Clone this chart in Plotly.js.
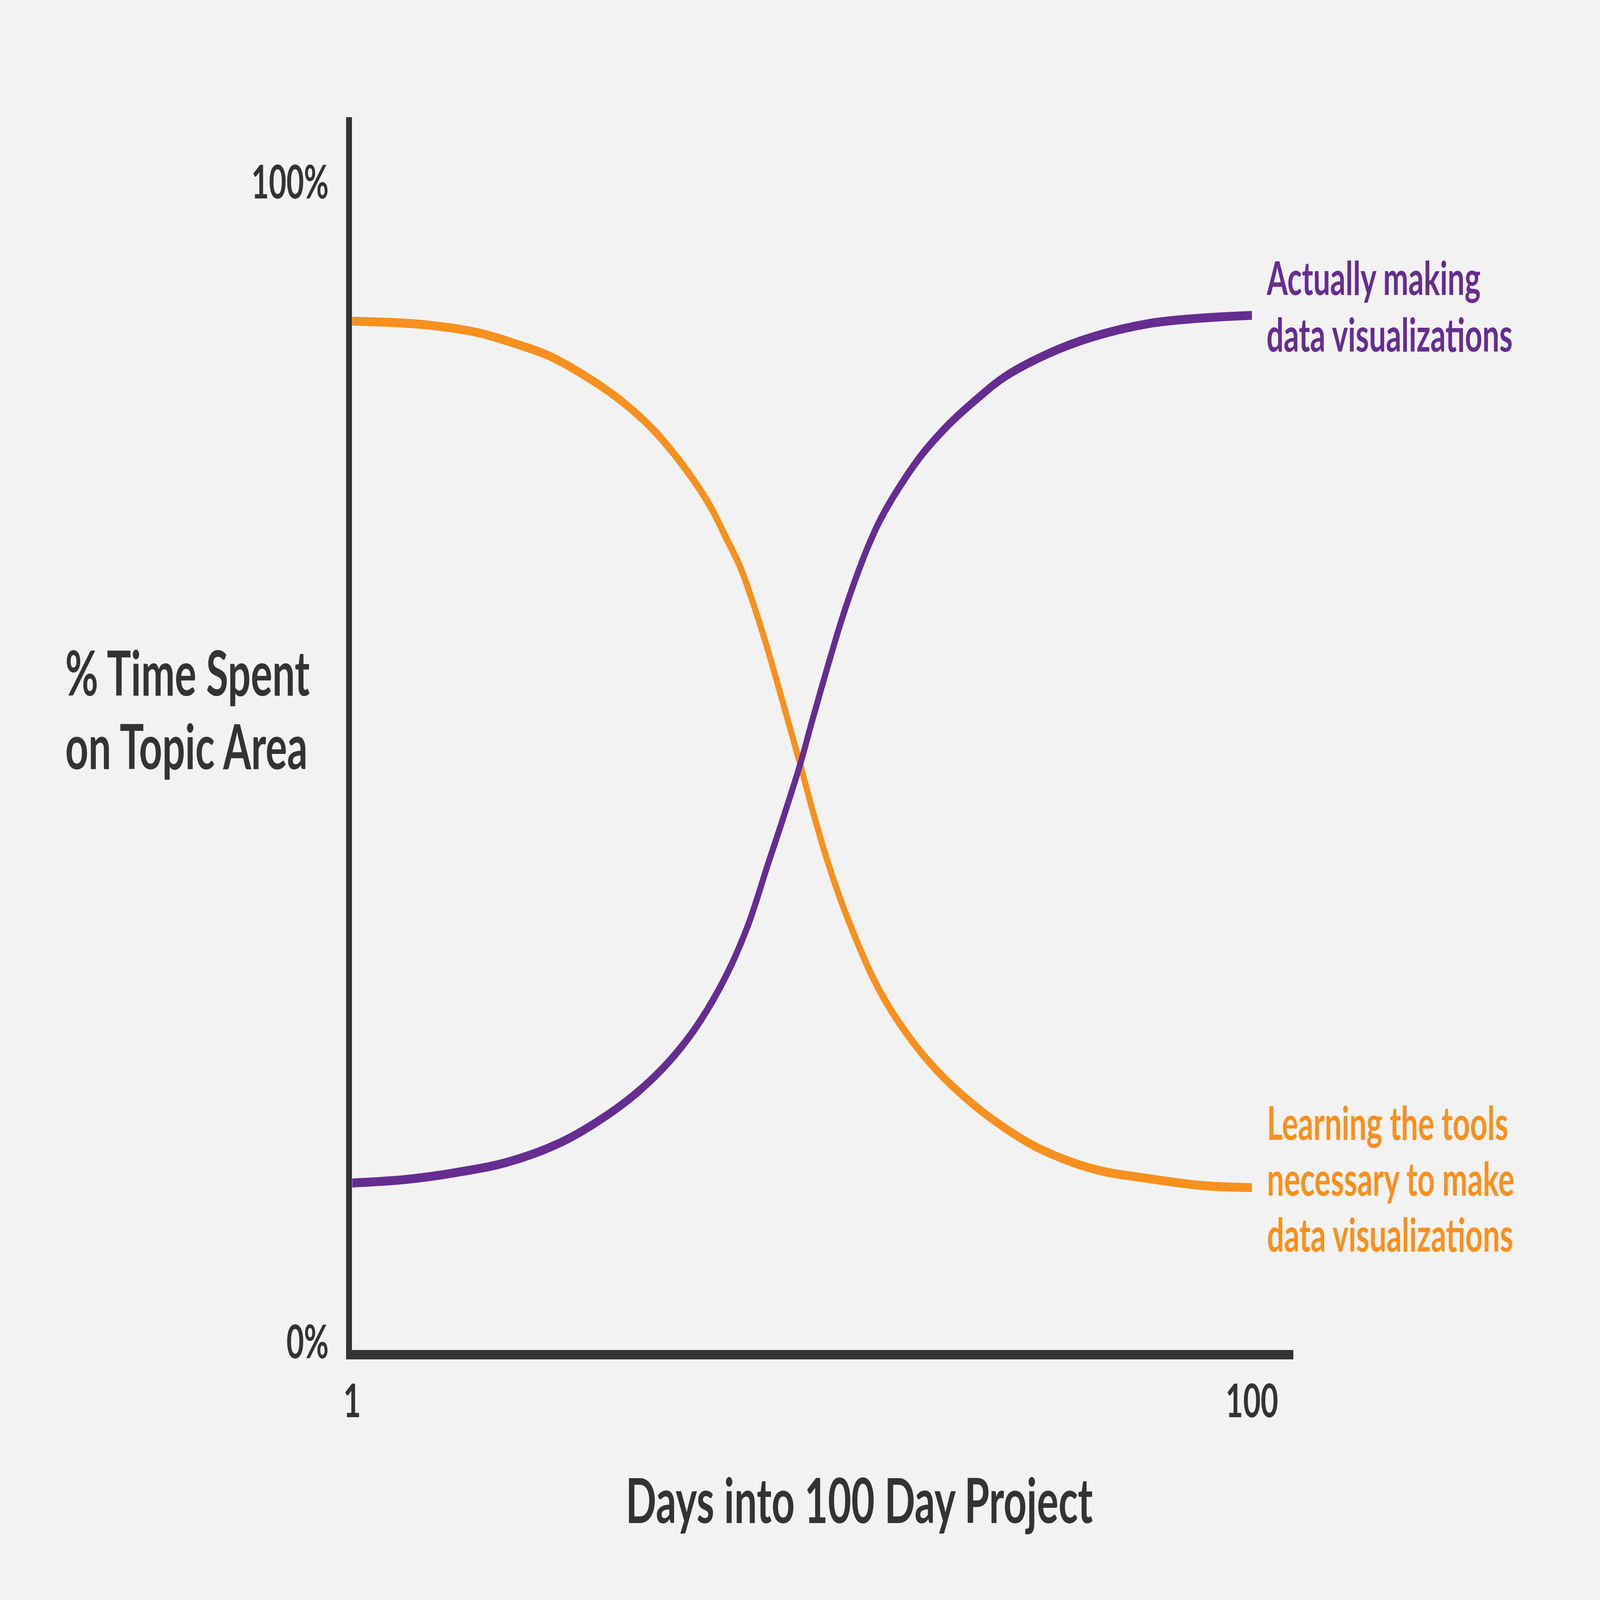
<!DOCTYPE html>
<html>
<head>
<meta charset="utf-8">
<script src="https://cdn.plot.ly/plotly-3.0.1.min.js"></script>
<style>
  html, body { margin: 0; padding: 0; background: #f2f2f2; overflow: hidden; }
  #chart { width: 6352px; height: 4116px; transform-origin: 0 0; }
</style>
</head>
<body>
<div id="chart"></div>
<script>
// Days into the project (x) and share of time (y, %)
const learningDays = [1, 8.9, 14.9, 18.8, 22.7, 26.6, 30.5, 34.3, 38.3, 40.5, 42.1, 43.7, 45.2, 46.8, 48.4, 50.3, 51.6, 53.2, 54.8, 56.4, 58.0, 59.6, 62.0, 65.1, 69.0, 72.9, 76.8, 82.6, 88.5, 94.3, 100];
const learningShare = [88.7, 88.4, 87.7, 86.8, 85.7, 84.0, 81.9, 79.2, 75.3, 72.6, 70.1, 67.5, 64.2, 60.2, 55.8, 50.5, 46.7, 42.4, 38.7, 35.5, 32.6, 30.2, 27.3, 24.3, 21.4, 19.1, 17.3, 15.6, 14.8, 14.2, 14.0];

const makingDays = [1, 6.8, 12.4, 18.1, 23.7, 28.0, 32.2, 35.9, 38.9, 42.1, 44.5, 46.8, 48.4, 50.3, 51.6, 53.2, 54.8, 56.4, 58.0, 59.6, 63.3, 66.4, 69.6, 72.8, 77.6, 82.3, 88.7, 95.1, 100];
const makingShare = [14.4, 14.7, 15.3, 16.2, 17.8, 19.7, 22.1, 24.9, 27.9, 32.2, 36.5, 42.0, 45.8, 50.5, 54.2, 58.6, 62.8, 66.5, 69.7, 72.3, 76.8, 79.6, 81.9, 83.9, 85.9, 87.3, 88.5, 89.0, 89.2];

const xTickVals = [1, 100];
const xTickText = ['1', '100'];
const yTickVals = [0, 100];
const yTickText = ['0%', '100%'];

const makingLabel = ['Actually making', 'data visualizations'];
const learningLabel = ['Learning the tools', 'necessary to make', 'data visualizations'];
const yTitleLines = ['% Time Spent', 'on Topic Area'];
const xTitle = 'Days into 100 Day Project';

const ORANGE = '#f7901e';
const PURPLE = '#662d91';
const DARK = '#333333';
const FONT = 'Lato, "Open Sans", sans-serif';

// the design is laid out at 6352x4116; stretch it onto whatever window we get
const W0 = 6352, H0 = 4116;
const chartDiv = document.getElementById('chart');
chartDiv.style.transform = 'scale(' + (window.innerWidth / W0) + ',' + (window.innerHeight / H0) + ')';

const traces = [
    {
        x: learningDays,
        y: learningShare,
        mode: 'lines',
        name: 'Learning the tools',
        line: { color: ORANGE, width: 23, shape: 'spline', smoothing: 1 },
        hoverinfo: 'skip'
    },
    {
        x: makingDays,
        y: makingShare,
        mode: 'lines',
        name: 'Actually making',
        line: { color: PURPLE, width: 23, shape: 'spline', smoothing: 1 },
        hoverinfo: 'skip'
    }
];

const annotations = [];

// line labels, one annotation per text line, hung off each series' last point
const makingShifts = [98, -47];
makingLabel.forEach((t, i) => {
    annotations.push({
        x: makingDays[makingDays.length - 1], y: makingShare[makingShare.length - 1],
        xref: 'x', yref: 'y', text: t, showarrow: false,
        xanchor: 'left', yanchor: 'middle', xshift: 56, yshift: makingShifts[i],
        font: { family: FONT, size: 120, weight: 'bold', color: PURPLE }
    });
});
const learningShifts = [169, 25, -119];
learningLabel.forEach((t, i) => {
    annotations.push({
        x: learningDays[learningDays.length - 1], y: learningShare[learningShare.length - 1],
        xref: 'x', yref: 'y', text: t, showarrow: false,
        xanchor: 'left', yanchor: 'middle', xshift: 58, yshift: learningShifts[i],
        font: { family: FONT, size: 120, weight: 'bold', color: ORANGE }
    });
});

// y title sits horizontally left of the axis
const yTitleY = [0.5501, 0.4905];
yTitleLines.forEach((t, i) => {
    annotations.push({
        x: -0.3053, y: yTitleY[i], xref: 'paper', yref: 'paper',
        text: t, showarrow: false, xanchor: 'left', yanchor: 'middle',
        font: { family: FONT, size: 160, weight: 'bold', color: DARK }
    });
});

annotations.push({
    x: 0.5387, y: -0.1207, xref: 'paper', yref: 'paper',
    text: xTitle, showarrow: false, xanchor: 'center', yanchor: 'middle',
    font: { family: FONT, size: 160, weight: 'bold', color: DARK }
});

const layout = {
    width: W0,
    height: H0,
    paper_bgcolor: '#f2f2f2',
    plot_bgcolor: '#f2f2f2',
    showlegend: false,
    margin: { l: 1398, r: 1217, t: 301, b: 643, pad: 0 },
    xaxis: {
        range: [1, 104.57],
        showgrid: false,
        zeroline: false,
        showline: true,
        linecolor: DARK,
        linewidth: 24,
        ticks: '',
        tickvals: xTickVals,
        ticktext: xTickText,
        ticklabelstandoff: 5,
        tickfont: { family: FONT, size: 120, weight: 'bold', color: DARK },
        fixedrange: true
    },
    yaxis: {
        range: [0, 106.3],
        showgrid: false,
        zeroline: false,
        showline: true,
        linecolor: DARK,
        linewidth: 24,
        ticks: '',
        tickvals: yTickVals,
        ticktext: yTickText,
        ticklabelstandoff: 45,
        ticklabelshift: -21,
        tickfont: { family: FONT, size: 120, weight: 'bold', color: DARK },
        fixedrange: true
    },
    annotations: annotations
};

const config = { responsive: false, displayModeBar: false, staticPlot: true };

Plotly.newPlot('chart', traces, layout, config);
</script>
</body>
</html>
